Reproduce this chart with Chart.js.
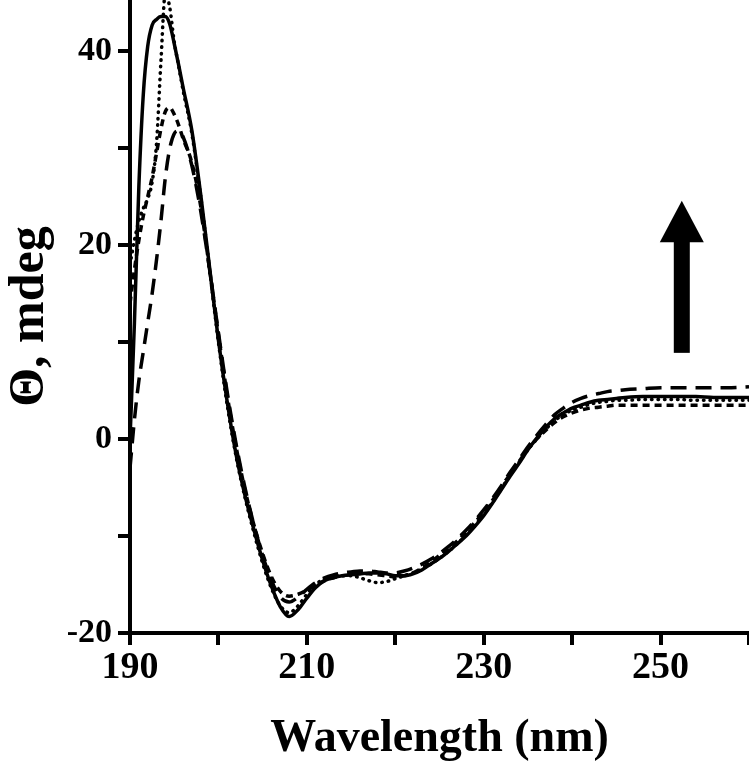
<!DOCTYPE html>
<html>
<head>
<meta charset="utf-8">
<script src="https://cdn.jsdelivr.net/npm/chart.js@4.4.1/dist/chart.umd.min.js"></script>
<style>
  html, body { margin: 0; padding: 0; background: #ffffff; }
  #wrap { width: 749px; height: 773px; position: relative; }
</style>
</head>
<body>
<div id="wrap"><canvas id="c" width="749" height="773"></canvas></div>
<script>
// ---- data ----
const wavelength = [190,190.5,191,191.5,192,192.5,193,193.5,194,194.5,195,195.5,196,
  197,198,199,200,201,202,203,204,205,206,207,208,209,210,211,212,213,214,215,216,217,218,219,220,
  221,222,223,224,225,226,227,228,229,230,231,232,233,234,235,236,237,238,239,240,241,242,243,244,245,246,
  248,250,252,254,256,258,260];

const solidSeries = [0,12,26,35.5,40.5,42.7,43.3,43.6,43.6,42.8,40.8,38.6,36.3,
  31.8,25.2,17.7,10.2,3.8,-1.6,-5.8,-9.3,-12.5,-15.2,-17.3,-18.3,-17.6,-16.4,-15.3,-14.6,-14.3,-14.1,-14.0,-13.9,-13.8,-13.8,-13.9,-14.1,
  -14.1,-13.9,-13.5,-12.9,-12.3,-11.6,-10.8,-10.0,-9.0,-7.9,-6.6,-5.2,-3.8,-2.5,-1.1,0.1,1.2,2.1,2.7,3.2,3.5,3.8,4.0,4.1,4.2,4.3,
  4.4,4.4,4.4,4.4,4.3,4.3,4.3];

const dottedSeries = [18,20.5,22.5,23.8,24.8,26.5,30.5,39,46,44.5,41,38.5,36,
  31.5,25,17.5,10,3.5,-1.8,-6,-9.6,-12.8,-15.4,-17.2,-17.9,-17.2,-16.0,-15.0,-14.4,-14.2,-14.1,-14.1,-14.3,-14.6,-14.8,-14.7,-14.4,
  -14.1,-13.8,-13.4,-12.9,-12.3,-11.6,-10.8,-9.9,-8.9,-7.8,-6.5,-5.1,-3.7,-2.4,-1.1,0.0,1.0,1.9,2.5,3.0,3.3,3.6,3.8,3.9,4.0,4.0,
  4.1,4.1,4.1,4.0,4.0,4.0,4.0];

const shortDashSeries = [14,17.5,20.5,23,25,27,29.5,32,33.8,34.2,33.5,32.4,31,
  28.5,24,17.5,10.8,4.5,-0.8,-5.2,-8.8,-11.8,-14.2,-15.7,-16.2,-16.0,-15.6,-15.1,-14.6,-14.3,-14.1,-14.0,-13.9,-13.9,-14.0,-14.1,-14.2,
  -14.1,-13.8,-13.3,-12.7,-12.0,-11.3,-10.5,-9.6,-8.6,-7.5,-6.3,-4.9,-3.6,-2.3,-1.0,0.0,0.9,1.7,2.3,2.7,3.0,3.2,3.3,3.4,3.5,3.5,
  3.5,3.5,3.5,3.5,3.5,3.5,3.5];

const longDashSeries = [-3,2,6,9,12,15,18.5,22.5,27,30,31.5,31.8,31.2,
  28.2,23.5,17.5,11,4.8,-0.5,-5,-8.8,-12,-14.6,-16.3,-16.8,-16.3,-15.5,-14.8,-14.3,-14.0,-13.8,-13.7,-13.6,-13.6,-13.7,-13.8,-13.8,
  -13.6,-13.3,-12.9,-12.4,-11.8,-11.1,-10.3,-9.4,-8.4,-7.3,-6.1,-4.8,-3.4,-2.1,-0.8,0.4,1.5,2.5,3.2,3.8,4.2,4.5,4.7,4.9,5.0,5.1,
  5.2,5.3,5.3,5.3,5.3,5.3,5.4];

const xTickLabels = [190, 210, 230, 250];
const yTickLabels = [-20, 0, 20, 40];

// arrow annotation, in data units (nm, mdeg)
const arrowX = 252.4;
const arrowTail = 8.9;
const arrowHeadBase = 20.3;
const arrowTip = 24.6;

// ---- build ----
const toPts = (vals) => wavelength.map((x, i) => ({ x: x, y: vals[i] }));
const FONT = "'Liberation Serif', 'Times New Roman', serif";

const arrowPlugin = {
  id: 'arrowPlugin',
  afterDatasetsDraw(chart) {
    const { ctx, scales: { x, y } } = chart;
    const px = x.getPixelForValue(arrowX);
    const yTail = y.getPixelForValue(arrowTail);
    const yBase = y.getPixelForValue(arrowHeadBase);
    const yTip = y.getPixelForValue(arrowTip);
    ctx.save();
    ctx.fillStyle = '#000';
    ctx.fillRect(px - 8, yBase - 1, 16, yTail - yBase + 1);
    ctx.beginPath();
    ctx.moveTo(px, yTip);
    ctx.lineTo(px + 22, yBase);
    ctx.lineTo(px - 22, yBase);
    ctx.closePath();
    ctx.fill();
    ctx.restore();
  }
};

const common = {
  borderColor: '#000',
  backgroundColor: '#000',
  borderWidth: 3.5,
  pointRadius: 0,
  fill: false,
  cubicInterpolationMode: 'monotone'
};

new Chart(document.getElementById('c'), {
  type: 'line',
  data: {
    datasets: [
      Object.assign({ label: 'solid', data: toPts(solidSeries) }, common),
      Object.assign({ label: 'dotted', data: toPts(dottedSeries), borderDash: [0.5, 6], borderCapStyle: 'round' }, common),
      Object.assign({ label: 'short dash', data: toPts(shortDashSeries), borderDash: [7, 5] }, common),
      Object.assign({ label: 'long dash', data: toPts(longDashSeries), borderDash: [16, 9] }, common)
    ]
  },
  options: {
    responsive: false,
    animation: false,
    devicePixelRatio: 1,
    layout: { padding: 0 },
    plugins: { legend: { display: false }, tooltip: { enabled: false } },
    scales: {
      x: {
        type: 'linear',
        min: 190, max: 260,
        afterFit(s) { s.height = 140; s.paddingLeft = 0; s.paddingRight = 0; },
        border: { display: true, color: '#000', width: 4 },
        grid: { drawOnChartArea: false, color: '#000', lineWidth: 4, tickLength: 12 },
        ticks: {
          stepSize: 10,
          includeBounds: false,
          autoSkip: false,
          maxRotation: 0,
          color: '#000',
          padding: 0,
          font: { family: FONT, size: 38, weight: 'bold' },
          callback: (v) => xTickLabels.includes(v) ? String(v) : ''
        },
        title: {
          display: true,
          text: 'Wavelength (nm)',
          color: '#000',
          font: { family: FONT, size: 46, weight: 'bold' },
          padding: { top: 0, bottom: 6 }
        }
      },
      y: {
        type: 'linear',
        min: -20, max: 45.3,
        afterFit(s) { s.width = 130; s.paddingTop = 0; s.paddingBottom = 0; },
        border: { display: true, color: '#000', width: 4 },
        grid: { drawOnChartArea: false, color: '#000', lineWidth: 4, tickLength: 12 },
        ticks: {
          stepSize: 10,
          includeBounds: false,
          autoSkip: false,
          color: '#000',
          padding: 6,
          font: { family: FONT, size: 34, weight: 'bold' },
          callback: (v) => yTickLabels.includes(v) ? String(v) : ''
        },
        title: {
          display: true,
          text: 'Θ, mdeg',
          color: '#000',
          font: { family: FONT, size: 50, weight: 'bold' },
          padding: { top: 0, bottom: 0 }
        }
      }
    }
  },
  plugins: [arrowPlugin]
});
</script>
</body>
</html>
